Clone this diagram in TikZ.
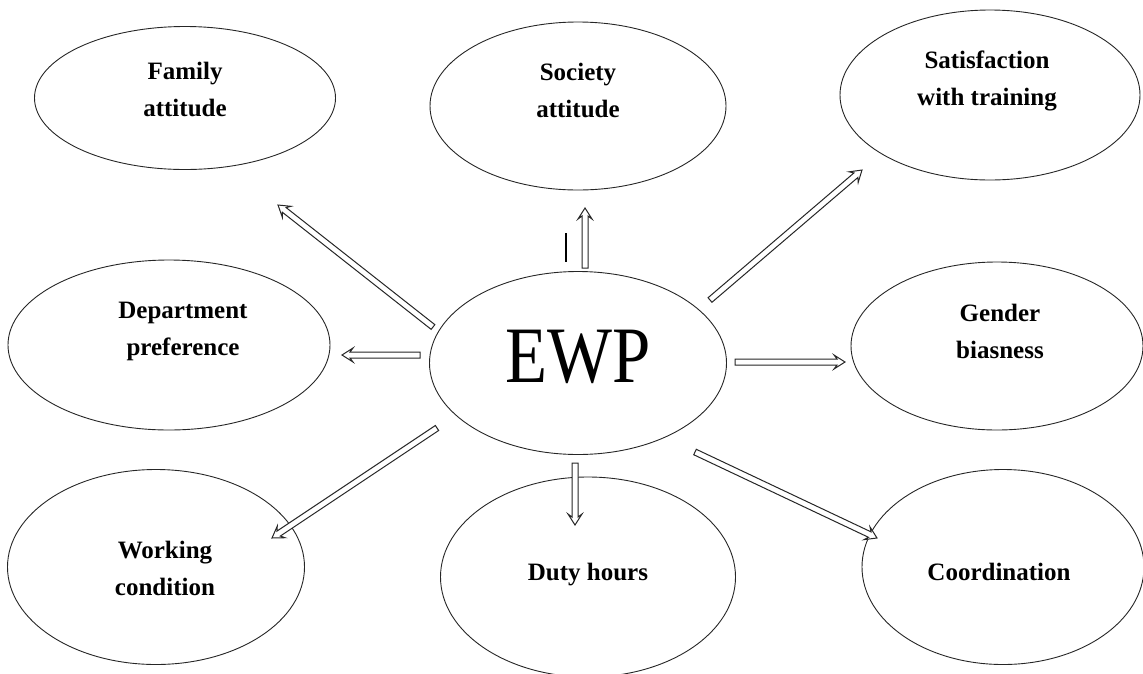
\documentclass[tikz,border=0pt]{standalone}
\usepackage{fontspec}
\setmainfont{Liberation Serif}
\usetikzlibrary{shapes.geometric,calc}
\tikzset{
  oval/.style={draw=black!85, ellipse, line width=0.9pt, inner sep=0pt},
  lbl/.style={font=\fontsize{25}{37}\selectfont\bfseries, align=center, inner sep=0pt},
  hollow/.style={draw=black!85, line width=1pt, fill=white, line join=miter,
    to path={let \p1=(\tikztostart), \p2=(\tikztotarget),
      \n1={atan2(\y2-\y1,\x2-\x1)}, \n2={veclen(\x2-\x1,\y2-\y1)} in
      {[shift={(\p1)}, rotate=\n1]
        (0pt,-3pt) -- ({(\n2-8)*1pt},-3pt) -- ({(\n2-11)*1pt},-7pt)
        -- ({\n2*1pt},0pt) -- ({(\n2-11)*1pt},7pt) -- ({(\n2-8)*1pt},3pt)
        -- (0pt,3pt) -- cycle}}},
}
\begin{document}
\begin{tikzpicture}[x=1pt,y=-1pt]
\useasboundingbox (0,0) rectangle (1143,673);
% ellipses
\node[oval, minimum width=301pt, minimum height=143pt] (fam) at (185,98) {};
\node[oval, minimum width=296pt, minimum height=168pt] (soc) at (578,106) {};
\node[oval, minimum width=300pt, minimum height=170pt] (sat) at (990,95) {};
\node[oval, minimum width=322pt, minimum height=170pt] (dep) at (169,345) {};
\node[oval, minimum width=297pt, minimum height=183pt] (ewp) at (578,363) {};
\node[oval, minimum width=292pt, minimum height=168pt] (gen) at (997,346) {};
\node[oval, minimum width=297pt, minimum height=195pt] (wor) at (156,567) {};
\node[oval, minimum width=295pt, minimum height=200pt] (dut) at (588,577) {};
\node[oval, minimum width=282pt, minimum height=195pt] (coo) at (1003,567) {};
% labels
\node[lbl] (famt) at (185,89) {Family\\attitude};
\node[lbl] (soct) at (578,90) {Society\\attitude};
\node[lbl] (satt) at (987,81) {Satisfaction\\with training};
\node[lbl] (dept) at (183,331) {Department\\preference};
\node[inner sep=0pt] (ewpt) at (578,357) {\fontsize{80}{80}\selectfont\scalebox{0.86}[1]{EWP}};
\node[lbl] (gent) at (1000,331) {Gender\\biasness};
\node[lbl] (wort) at (165,568) {Working\\condition};
\node[lbl] (dutt) at (588,575) {Duty hours};
\node[lbl] (coot) at (999,572) {Coordination};
% arrow end points
\coordinate (t1) at (433,327); \coordinate (h1) at (278,205);
\coordinate (t2) at (585,268); \coordinate (h2) at (585,208);
\coordinate (t3) at (710,300); \coordinate (h3) at (862,170);
\coordinate (t4) at (420,355); \coordinate (h4) at (342,355);
\coordinate (t5) at (735,362); \coordinate (h5) at (845,362);
\coordinate (t6) at (437,428); \coordinate (h6) at (272,538);
\coordinate (t7) at (575,463); \coordinate (h7) at (575,525);
\coordinate (t8) at (695,452); \coordinate (h8) at (877,538);
\draw[hollow] (t1) to (h1);
\draw[hollow] (t2) to (h2);
\draw[hollow] (t3) to (h3);
\draw[hollow] (t4) to (h4);
\draw[hollow] (t5) to (h5);
\draw[hollow] (t6) to (h6);
\draw[hollow] (t7) to (h7);
\draw[hollow] (t8) to (h8);
% stray bar
\draw[line width=2.8pt] (566,233) -- (566,262);
\end{tikzpicture}
\end{document}
